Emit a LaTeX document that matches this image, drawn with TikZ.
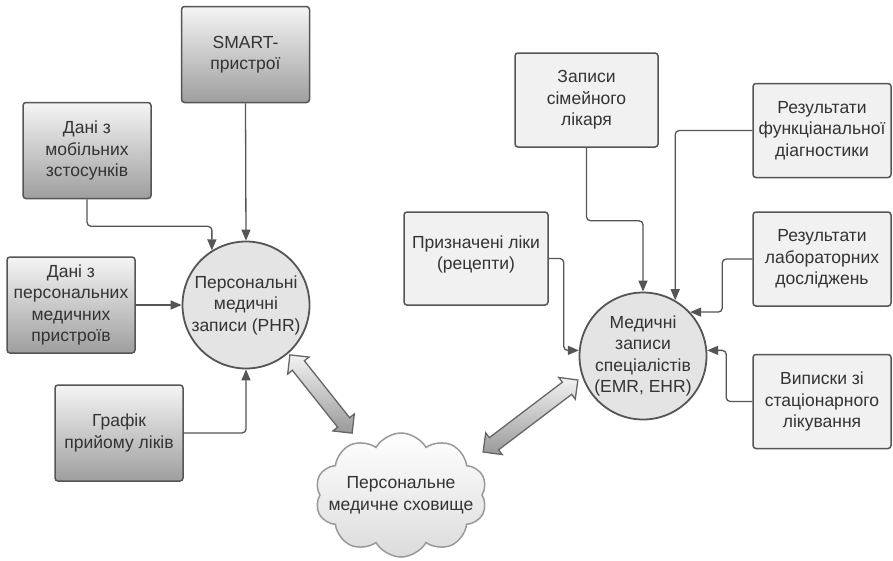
\documentclass[tikz,border=0pt]{standalone}
\usepackage{fontspec}
\setmainfont{Liberation Sans}
\usetikzlibrary{shapes.symbols,shapes.arrows,arrows.meta,calc}
\definecolor{txt}{HTML}{333333}
\definecolor{edge}{HTML}{555555}
\definecolor{lbox}{HTML}{F1F1F1}
\definecolor{circ}{HTML}{E4E4E4}
\tikzset{
  every node/.style={font=\fontsize{17.5}{21.5}\selectfont, text=txt, align=center, inner sep=0pt},
  gbox/.style={rectangle, rounded corners=3pt, draw=edge, line width=1.5pt,
    top color=white!96!black, bottom color=black!38, minimum width=128pt, minimum height=96pt},
  rbox/.style={rectangle, rounded corners=3pt, draw=edge, line width=1.5pt,
    fill=lbox, minimum height=94pt},
  hub/.style={circle, draw=edge, line width=1.8pt, fill=circ, minimum size=127pt},
  conn/.style={draw=edge, line width=1.3pt, rounded corners=4pt,
    -{Triangle[length=11pt,width=9pt]}},
  darr/.style={double arrow, double arrow head extend=6pt, inner xsep=0pt, inner ysep=7pt,
    draw=edge!90, line width=1.3pt, top color=white!95!black, bottom color=black!40},
}
\begin{document}
\begin{tikzpicture}[x=1pt,y=-1pt]
\useasboundingbox (0,0) rectangle (893,560);
% left side
\node[gbox] (smart) at (245.5,54.5) {SMART-\\пристрої};
\node[gbox] (mob) at (87,150.5) {Дані з\\мобільних\\зстосунків};
\node[gbox] (pers) at (71,305) {Дані з\\персональних\\медичних\\пристроїв};
\node[gbox] (graf) at (119,433) {Графік\\прийому ліків};
\node[hub] (phr) at (246,305) {Персональні\\медичні\\записи (PHR)};
\draw[conn] (smart.south) -- (phr.north);
\draw[conn] (mob.south) -- ++(0,27) -| (phr.122);
\draw[conn] (pers.east) -- (phr.west);
\draw[conn] (graf.east) -| (phr.south);
% cloud
\node[cloud, cloud puffs=10, cloud puff arc=120, aspect=1.38, minimum width=172pt, minimum height=124pt,
  draw=black!40, line width=1.5pt, top color=white, bottom color=black!14] (cloud) at (401,495) {};
\node (cloudtxt) at (cloud.center) {Персональне\\медичне сховище};
% right side
\node[rbox, minimum width=143pt] (sim) at (586.5,100) {Записи\\сімейного\\лікаря};
\node[rbox, minimum width=138pt] (funk) at (822,130.5) {Результати\\функціанальної\\діагностики};
\node[rbox, minimum width=144pt, minimum height=93pt] (pryz) at (476,258.5) {};
\node (pryztxt) at ([yshift=4pt]pryz.center) {Призначені ліки\\(рецепти)};
\node[rbox, minimum width=138pt] (lab) at (822,259) {Результати\\лабораторних\\досліджень};
\node[rbox, minimum width=138pt] (vyp) at (822,401.5) {Виписки зі\\стаціонарного\\лікування};
\node[hub] (emr) at (643,356) {Медичні\\записи\\спеціалістів\\(EMR, EHR)};
\draw[conn] (sim.south) -- ++(0,73) -| (emr.north);
\draw[conn] (funk.west) -| (emr.60);
\draw[conn] (pryz.east) -- ++(15,0) |- (emr.175);
\draw[conn] (lab.west) -- ++(-30,0) |- (emr.43);
\draw[conn] (vyp.west) -- ++(-26,0) |- (emr.5);
% double arrows
\node[darr, minimum height=100pt, rotate=-51.5] (a1) at (321,394) {};
\node[darr, minimum height=119pt, rotate=37.2] (a2) at (530.5,416) {};
\end{tikzpicture}
\end{document}
